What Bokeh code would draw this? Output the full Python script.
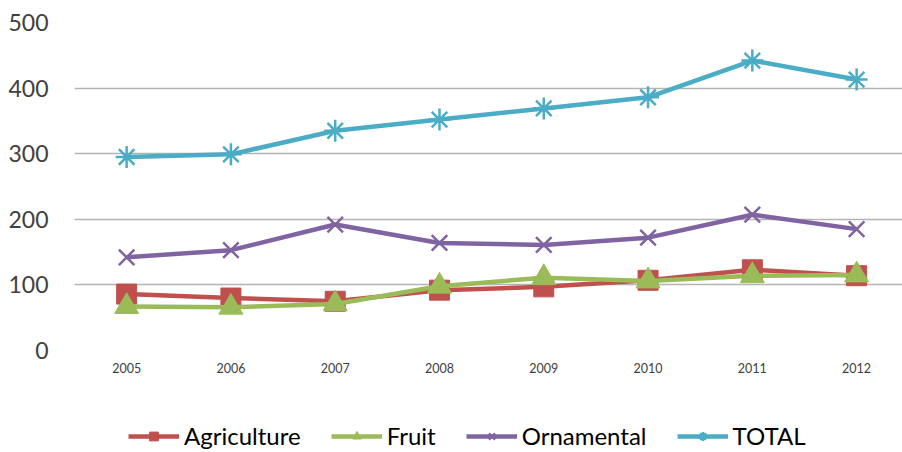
from bokeh.plotting import figure
from bokeh.models import Range1d, Legend, LegendItem, FixedTicker
from bokeh.layouts import column
from bokeh.embed import file_html
from bokeh.resources import INLINE

years = [2005, 2006, 2007, 2008, 2009, 2010, 2011, 2012]
agriculture = [86, 80, 75, 92, 97, 107, 123, 114]
fruit = [67, 66, 71, 98, 111, 106, 114, 115]
ornamental = [142, 153, 192, 164, 161, 172, 207, 185]
total = [295, 299, 335, 352, 369, 386, 442, 413]
y_ticks = [0, 100, 200, 300, 400, 500]

FONT = "Lato"

p = figure(width=902, height=385, output_backend="svg", toolbar_location=None,
           x_range=Range1d(2004.5, 2012.44), y_range=Range1d(0, 500),
           min_border_left=74, min_border_right=0, min_border_top=22, min_border_bottom=35)
p.outline_line_color = None
p.background_fill_color = "white"
p.border_fill_color = "white"

p.xgrid.grid_line_color = None
p.ygrid.grid_line_color = "#b4b4b4"
p.ygrid.grid_line_width = 1.5

p.yaxis.ticker = FixedTicker(ticks=y_ticks)
p.xaxis.ticker = FixedTicker(ticks=years)
for ax in (p.xaxis, p.yaxis):
    ax.axis_line_color = None
    ax.major_tick_line_color = None
    ax.minor_tick_line_color = None
    ax.major_tick_in = 0
    ax.major_tick_out = 0
    ax.major_label_text_font = FONT
    ax.major_label_text_color = "#404040"
p.yaxis.major_label_text_font_size = "23px"
p.yaxis.major_label_standoff = 26
p.xaxis.major_label_text_font_size = "12.5px"
p.xaxis.major_label_standoff = 12

series = [
    ("Agriculture", agriculture, "#C0504D", "square", 20),
    ("Fruit", fruit, "#9BBB59", "triangle", 24),
    ("Ornamental", ornamental, "#8064A2", "x", 22),
    ("TOTAL", total, "#4BACC6", "asterisk", 22),
]

# separate strip below the chart that holds the legend
lg = figure(width=902, height=67, output_backend="svg", toolbar_location=None,
            x_range=Range1d(0, 1), y_range=Range1d(0, 1),
            x_axis_location=None, y_axis_location=None,
            min_border_left=0, min_border_right=0, min_border_top=0, min_border_bottom=0)
lg.outline_line_color = None
lg.grid.grid_line_color = None

items = []
for name, vals, color, marker, size in series:
    mlw = 2.5 if marker in ("x", "asterisk") else 1
    p.line(years, vals, line_color=color, line_width=4.5)
    p.scatter(years, vals, marker=marker, size=size, fill_color=color,
              line_color=color, line_width=mlw)
    # legend swatches (drawn off-range in the legend strip, only used for the key)
    l = lg.line([-5, -4], [-5, -4], line_color=color, line_width=4.5)
    s = lg.scatter([-5], [-5], marker=marker, size=size, fill_color=color,
                   line_color=color, line_width=mlw)
    items.append(LegendItem(label=name, renderers=[l, s]))

legend = Legend(items=items, orientation="horizontal", location=(54, 2),
                glyph_width=51, glyph_height=22, label_standoff=5, spacing=30,
                padding=0, margin=0, border_line_color=None, background_fill_alpha=0,
                label_text_font=FONT, label_text_font_size="24px",
                label_text_color="#000000", label_height=22)
lg.add_layout(legend, "center")

layout = column(p, lg, spacing=0)
open("out.html", "w").write(file_html(layout, INLINE))
